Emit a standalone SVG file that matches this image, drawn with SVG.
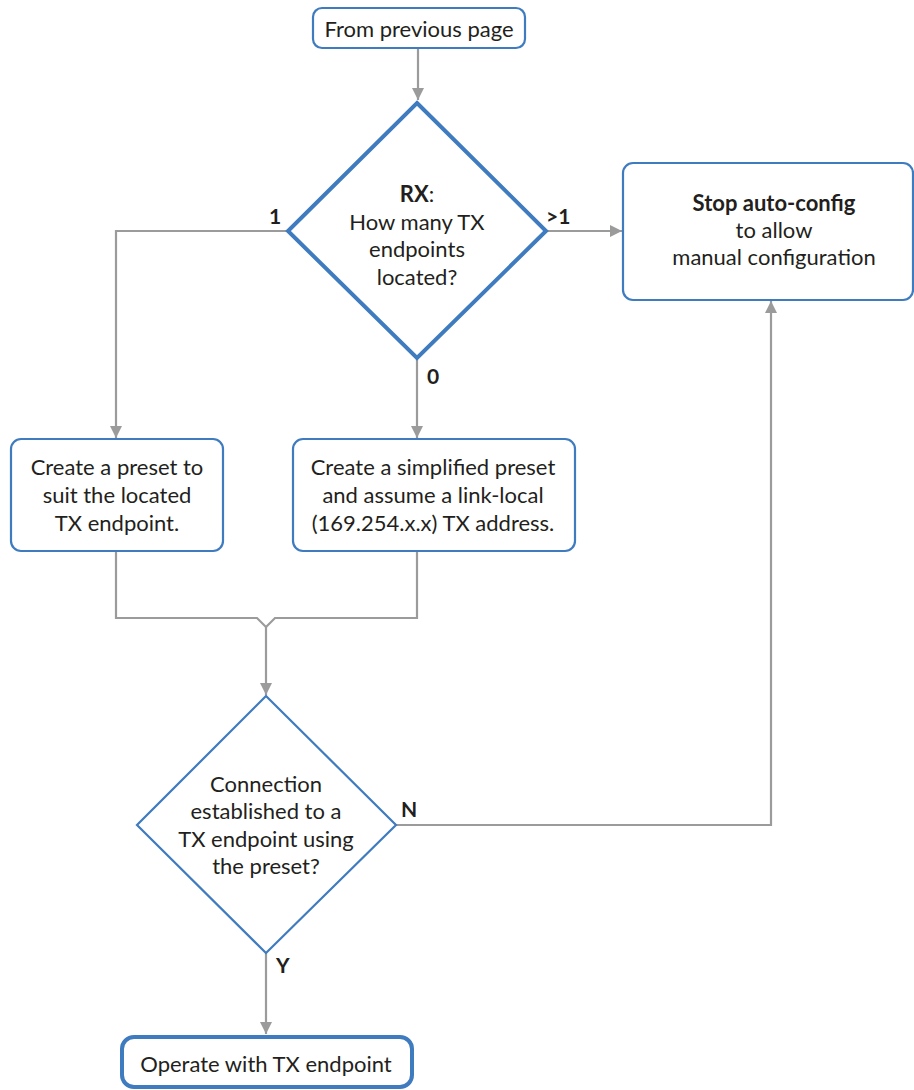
<svg xmlns="http://www.w3.org/2000/svg" width="914" height="1090" viewBox="0 0 914 1090">
<style>
text{font-family:Lato,"Liberation Sans",sans-serif;font-size:22px;fill:#231f20;text-anchor:middle}
.b{font-weight:bold}
.lbl{font-weight:bold;text-anchor:start;font-size:21px}
.box{fill:#fff;stroke:#3f7bbf;stroke-width:2.2}
.thick{stroke-width:4}
.conn{fill:none;stroke:#9b9b9b;stroke-width:2.2}
</style>
<defs>
<marker id="ah" markerUnits="userSpaceOnUse" viewBox="0 0 12 12" markerWidth="12" markerHeight="12" refX="12" refY="6" orient="auto">
<path d="M0,0 L12,6 L0,12 z" fill="#9b9b9b"/>
</marker>
</defs>
<g id="connectors">
<path class="conn" d="M418,48 V100" marker-end="url(#ah)"/>
<path class="conn" d="M288,231 H116 V438" marker-end="url(#ah)"/>
<path class="conn" d="M546,231 H622" marker-end="url(#ah)"/>
<path class="conn" d="M417,359 V438" marker-end="url(#ah)"/>
<path class="conn" d="M116,552 V618 H257 L266,627 L275,618 H417 V552"/>
<path class="conn" d="M266,627 V695" marker-end="url(#ah)"/>
<path class="conn" d="M396,825 H771 V301" marker-end="url(#ah)"/>
<path class="conn" d="M266,953 V1034" marker-end="url(#ah)"/>
<text class="lbl" x="269" y="224">1</text>
<text class="lbl" x="546" y="224">&gt;1</text>
<text class="lbl" x="427" y="384">0</text>
<text class="lbl" x="401" y="817">N</text>
<text class="lbl" x="276" y="973">Y</text>
</g>
<g id="start">
<rect class="box" x="313" y="8" width="212" height="40" rx="9"/>
<text x="419" y="37">From previous page</text>
</g>
<g id="decision1">
<path class="box thick" d="M417,103 L546,231 L417,358 L288,231 Z"/>
<text x="417" y="202"><tspan class="b">RX</tspan>:</text>
<text x="417" y="230">How many TX</text>
<text x="417" y="257">endpoints</text>
<text x="417" y="285">located?</text>
</g>
<g id="stop">
<rect class="box" x="623" y="163" width="290" height="137" rx="10"/>
<text class="b" x="774" y="211">Stop auto-config</text>
<text x="774" y="238">to allow</text>
<text x="774" y="265">manual configuration</text>
</g>
<g id="preset">
<rect class="box" x="11" y="439" width="212" height="112" rx="10"/>
<text x="117" y="475">Create a preset to</text>
<text x="117" y="503">suit the located</text>
<text x="117" y="531">TX endpoint.</text>
</g>
<g id="simplified">
<rect class="box" x="293" y="439" width="282" height="112" rx="10"/>
<text x="433" y="475">Create a simplified preset</text>
<text x="433" y="503">and assume a link-local</text>
<text x="433" y="531">(169.254.x.x) TX address.</text>
</g>
<g id="decision2">
<path class="box" d="M266,696 L396,825 L266,953 L137,825 Z"/>
<text x="266" y="792">Connection</text>
<text x="266" y="819">established to a</text>
<text x="266" y="847">TX endpoint using</text>
<text x="266" y="874">the preset?</text>
</g>
<g id="operate">
<rect class="box thick" x="122" y="1037" width="290" height="50" rx="12"/>
<text x="266" y="1072">Operate with TX endpoint</text>
</g>
</svg>
